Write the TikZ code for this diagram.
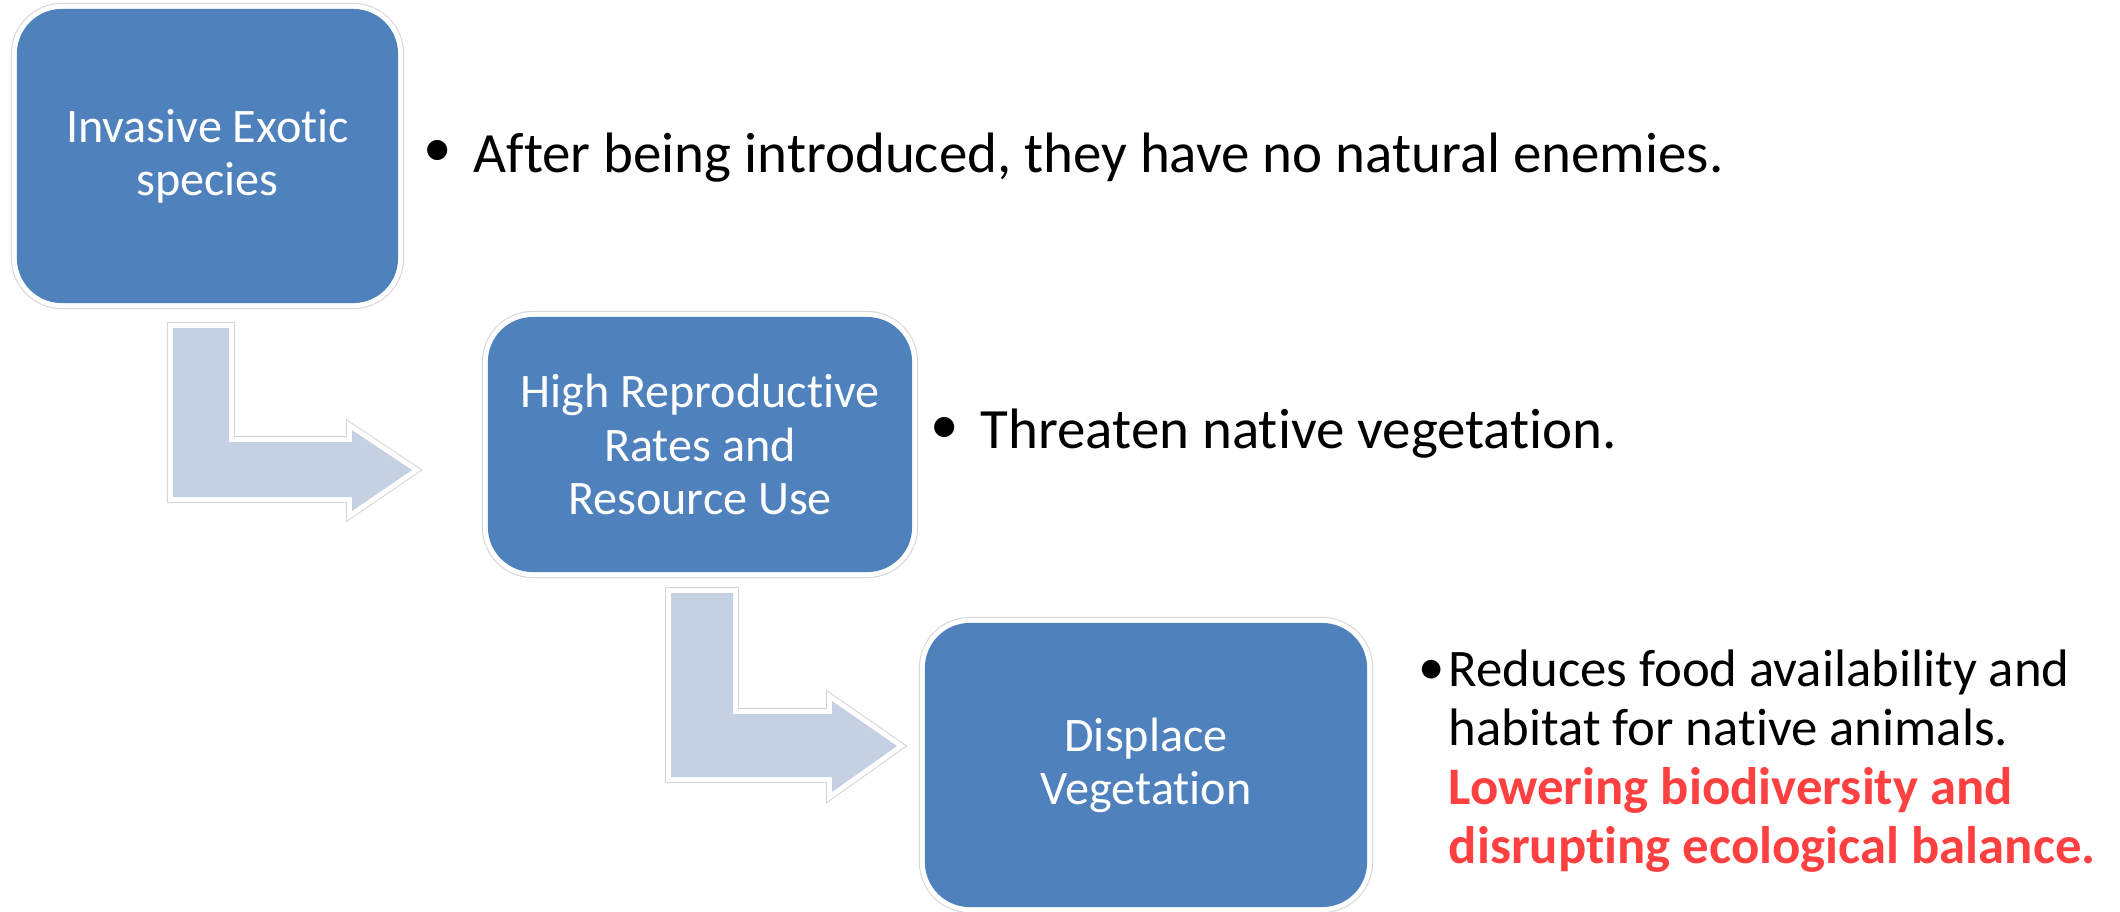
\documentclass[tikz,border=0pt]{standalone}
\usepackage{fontspec}
\setmainfont{Carlito}[Ligatures=NoCommon]
\usepackage{tikz}

\definecolor{boxblue}{RGB}{79,129,189}
\definecolor{arrowfill}{RGB}{197,208,227}
\definecolor{edgegray}{RGB}{212,212,212}
\definecolor{alertred}{RGB}{255,64,64}

\begin{document}
\begin{tikzpicture}[x=0.01cm, y=-0.01cm,
		outlined/.style={preaction={draw=edgegray, line width=0.12cm},
			preaction={draw=white, line width=0.10cm}},
		box/.style={outlined, fill=boxblue, rounded corners=0.45cm, inner sep=0pt,
			text=white, align=center, font=\fontsize{13.7}{15.1}\selectfont},
		bentarrow/.style={outlined, fill=arrowfill, line join=miter},
		note/.style={anchor=base west, inner sep=0pt, align=left,
			font=\fontsize{16.2}{19}\selectfont},
		dot/.style={inner sep=0pt, font=\fontsize{16.2}{19}\selectfont}]
		\useasboundingbox (0, 0) rectangle (2120, 911);

		% three steps, stepping down to the right
		\node [box, minimum width=3.81cm, minimum height=2.94cm] (invasive) at (207.5, 156) {Invasive Exotic\\species};
		\node [box, minimum width=4.24cm, minimum height=2.55cm] (rates) at (700, 444.5) {High Reproductive\\Rates and\\Resource Use};
		\node [box, minimum width=4.42cm, minimum height=2.84cm] (displace) at (1146, 765) {Displace\\Vegetation};

		% bent arrows between the steps
		\fill [bentarrow] (173, 328) -- (229, 328) -- (229, 442) -- (352, 442) -- (352, 430)
			-- (412, 470) -- (352, 511) -- (352, 497) -- (173, 497) -- cycle;
		\fill [bentarrow] (671, 593) -- (733, 593) -- (733, 714) -- (832, 714) -- (832, 701)
			-- (897, 746) -- (832, 792) -- (832, 777) -- (671, 777) -- cycle;

		% bullet points beside each step
		\node [dot] (dot1) at (438, 153) {•};
		\node [note] (enemies) at (473, 172) {After being introduced, they have no natural enemies.};
		\node [dot] (dot2) at (945, 430) {•};
		\node [note] (threaten) at (980, 448) {Threaten native vegetation.};
		\node [dot, font=\fontsize{15}{16.7}\selectfont] (dot3) at (1432, 672) {•};
		\node [note, font=\fontsize{15}{16.7}\selectfont] (reduces) at (1448, 863)
			{Reduces food availability and\\habitat for native animals.\\
			{\color{alertred}\bfseries Lowering biodiversity and}\\
			{\color{alertred}\bfseries disrupting ecological balance.}};
	\end{tikzpicture}
\end{document}
